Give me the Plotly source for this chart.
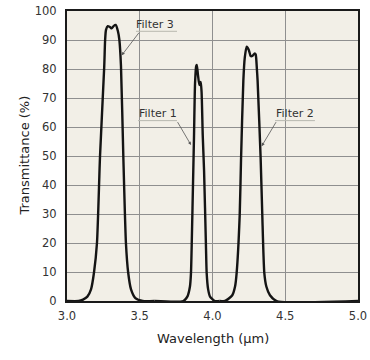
import plotly.graph_objects as go

# Filter 3 transmission curve (wavelength µm, transmittance %)
f3_wl = [3.00, 3.08, 3.11, 3.14, 3.165, 3.186, 3.206, 3.227, 3.256, 3.262, 3.268, 3.28, 3.295,
         3.307, 3.32, 3.335, 3.35, 3.36, 3.371, 3.387, 3.405, 3.42, 3.44, 3.47, 3.52, 3.60]
f3_t = [0, 0, 0.5, 1.5, 4, 10, 20, 50, 81, 90, 93.5, 94.8, 94.5,
        94, 94.8, 95.2, 93, 90, 81, 50, 20, 10, 4, 1, 0, 0]

# Filter 1
f1_wl = [3.60, 3.80, 3.827, 3.845, 3.852, 3.857, 3.868, 3.873, 3.88, 3.888, 3.892, 3.90, 3.91,
         3.919, 3.925, 3.933, 3.942, 3.955, 3.96, 3.97, 3.983, 4.017, 4.05]
f1_t = [0, 0, 1.5, 5, 9.6, 19, 45, 57, 75, 81, 81.4, 78, 74.5,
        75.5, 72, 57, 45, 19, 9.6, 4, 1.5, 0, 0]

# Filter 2
f2_wl = [4.05, 4.086, 4.136, 4.155, 4.166, 4.187, 4.196, 4.212, 4.222, 4.235, 4.25, 4.262, 4.274,
         4.29, 4.297, 4.305, 4.31, 4.331, 4.342, 4.356, 4.37, 4.395, 4.441, 5.0]
f2_t = [0, 0, 2, 5, 9.7, 29.7, 48.6, 76, 84, 87.7, 86.5, 84.5, 84.5,
        85.4, 85, 80, 76, 49, 30, 9.7, 5, 2, 0, 0]

x_ticks = [3.0, 3.5, 4.0, 4.5, 5.0]
x_tick_text = ["3.0", "3.5", "4.0", "4.5", "5.0"]
y_ticks = [0, 10, 20, 30, 40, 50, 60, 70, 80, 90, 100]

# label name, text centre (x, y), underline x-range, underline y, leader target (x, y), leader start x
labels = ["Filter 3", "Filter 1", "Filter 2"]
label_x = [3.608, 3.622, 4.567]
label_y = [95.3, 64.5, 64.8]
under_x0 = [3.474, 3.488, 4.43]
under_x1 = [3.756, 3.756, 4.704]
under_y = [93.0, 62.2, 62.2]
lead_from_x = [3.502, 3.754, 4.443]
lead_to_x = [3.376, 3.852, 4.338]
lead_to_y = [84.7, 53.8, 53.4]

FONT = "DejaVu Sans"
fig = go.Figure()
for wl, t in [(f3_wl, f3_t), (f1_wl, f1_t), (f2_wl, f2_t)]:
    fig.add_trace(go.Scatter(x=wl, y=t, mode="lines",
                             line=dict(color="#141414", width=2.4, shape="spline", smoothing=0.6),
                             showlegend=False, hoverinfo="skip"))

shapes = []
annotations = []
for i, name in enumerate(labels):
    annotations.append(dict(x=label_x[i], y=label_y[i], xref="x", yref="y", text=name,
                            showarrow=False, font=dict(family=FONT, size=11, color="#333333")))
    shapes.append(dict(type="line", xref="x", yref="y", x0=under_x0[i], x1=under_x1[i],
                       y0=under_y[i], y1=under_y[i], line=dict(color="#b8b8b0", width=1)))
    annotations.append(dict(x=lead_to_x[i], y=lead_to_y[i], xref="x", yref="y",
                            ax=lead_from_x[i], ay=under_y[i], axref="x", ayref="y", text="",
                            showarrow=True, arrowhead=2, arrowsize=0.8, arrowwidth=0.8,
                            arrowcolor="#555555"))

annotations.append(dict(x=-0.182, y=0.5, xref="paper", yref="paper", text="Transmittance (%)",
                        textangle=-90, showarrow=False,
                        font=dict(family=FONT, size=13, color="#222222")))
annotations.append(dict(x=0.5, y=-0.162, xref="paper", yref="paper", text="Wavelength (µm)",
                        showarrow=False, font=dict(family=FONT, size=13, color="#222222")))

fig.update_layout(
    width=370, height=360,
    margin=dict(l=67, r=12, t=11, b=59, autoexpand=False),
    paper_bgcolor="white", plot_bgcolor="#F2EFE7",
    shapes=shapes, annotations=annotations,
    font=dict(family=FONT, size=11.5, color="#333333"),
)
fig.update_xaxes(range=[3.0, 5.0], tickvals=x_ticks, ticktext=x_tick_text, showgrid=True,
                 gridcolor="#8f8f8f", gridwidth=1, showline=True, linecolor="#1a1a1a",
                 linewidth=2, mirror=True, zeroline=False, ticks="", ticklabelstandoff=3,
                 automargin=False)
fig.update_yaxes(range=[0, 100], tickvals=y_ticks, showgrid=True, gridcolor="#8f8f8f",
                 gridwidth=1, showline=True, linecolor="#1a1a1a", linewidth=2, mirror=True,
                 zeroline=False, ticks="", ticklabelstandoff=6, automargin=False)

fig.write_html("out.html", config={"displayModeBar": False},
               post_script="document.body.style.margin='0px';document.body.style.padding='0px';")
